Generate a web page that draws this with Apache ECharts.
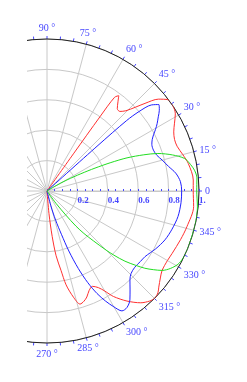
<!DOCTYPE html>
<html>
<head>
<meta charset="utf-8">
<script src="https://cdn.jsdelivr.net/npm/echarts@6/dist/echarts.min.js"></script>
<style>
html,body{margin:0;padding:0;background:#fff;}
#chart{width:247px;height:382px;}
</style>
</head>
<body>
<div id="chart"></div>
<script>
// Angles in degrees (counter-clockwise from 0), radii on a 0..1 scale
const redAngles = [-86, -85, -83.5, -82, -80, -78.5, -76, -73.7, -71.5, -69.4, -67, -64.5, -62, -60, -57.8, -54, -50, -47, -44.8, -42.5, -40.7, -37.5, -34.6, -30, -26.5, -20, -14.3, -6, 0, 4.3, 11, 15, 19, 22, 25, 28, 31, 34, 37, 39.5, 41.8, 43.5, 45.5, 47.5, 49.5, 51.5, 53, 54.2, 54.5, 54.6, 54.7];
const redR = [0, 0.15, 0.3, 0.43, 0.53, 0.63, 0.72, 0.775, 0.765, 0.745, 0.71, 0.695, 0.72, 0.76, 0.82, 0.895, 0.96, 0.99, 1.0, 0.99, 0.97, 0.94, 0.92, 0.915, 0.92, 0.935, 0.95, 0.97, 0.962, 0.965, 0.947, 0.925, 0.905, 0.905, 0.92, 0.95, 0.985, 1.0, 0.998, 0.95, 0.865, 0.8, 0.74, 0.71, 0.712, 0.75, 0.785, 0.76, 0.6, 0.3, 0];

const blueAngles = [-77, -75.5, -73.5, -71.6, -70, -68, -66, -64, -62, -60, -58, -55.6, -52.7, -50, -47, -44.5, -41, -37, -33.8, -28, -22.5, -17, -11, -5, 0, 4, 7.9, 11.5, 15, 18, 21, 24, 26, 28, 29.5, 31.5, 33.7, 35.7, 37.7, 39.5, 40.8, 41.5, 41.8, 42];
const blueR = [0, 0.1, 0.2, 0.3, 0.42, 0.55, 0.66, 0.75, 0.82, 0.88, 0.93, 0.93, 0.9, 0.85, 0.8, 0.775, 0.765, 0.77, 0.776, 0.81, 0.84, 0.86, 0.878, 0.885, 0.886, 0.88, 0.855, 0.815, 0.785, 0.76, 0.75, 0.755, 0.77, 0.795, 0.82, 0.85, 0.88, 0.91, 0.93, 0.89, 0.8, 0.7, 0.45, 0];

const greenAngles = [-56, -54, -52, -50.5, -49, -47, -45, -43.8, -42, -40, -38.3, -36.5, -34.6, -32, -28.8, -25, -21.3, -12.3, -6, 0, 5, 8, 10.5, 13.3, 16, 18.7, 20.5, 22.5, 24, 25.5, 27, 29, 31, 32];
const greenR = [0, 0.1, 0.2, 0.3, 0.37, 0.45, 0.55, 0.61, 0.69, 0.76, 0.82, 0.87, 0.92, 0.96, 0.99, 1.0, 1.0, 1.0, 0.995, 0.985, 0.99, 0.98, 0.96, 0.93, 0.86, 0.77, 0.68, 0.57, 0.46, 0.35, 0.25, 0.15, 0.06, 0];

const angleTickLabels = ['0', '15 °', '30 °', '45 °', '60 °', '75 °', '90 °', '270 °', '285 °', '300 °', '315 °', '330 °', '345 °'];
const radiusTickLabels = ['0.2', '0.4', '0.6', '0.8', '1.'];

const labelBlue = '#4646ff';
const serif = '"Liberation Serif", "DejaVu Serif", serif';

function toData(angles, radii) {
  return angles.map((a, i) => [radii[i], (a + 360) % 360]);
}
const angleLabelMap = {};
[0, 15, 30, 45, 60, 75, 90, 270, 285, 300, 315, 330, 345].forEach((v, i) => { angleLabelMap[v] = angleTickLabels[i]; });
const radiusLabelMap = {};
[0.2, 0.4, 0.6, 0.8, 1].forEach((v, i) => { radiusLabelMap[v.toFixed(1)] = radiusTickLabels[i]; });

const chart = echarts.init(document.getElementById('chart'), null, {renderer: 'canvas'});
chart.setOption({
  animation: false,
  backgroundColor: '#fff',
  polar: {center: [47, 191], radius: 152},
  angleAxis: {
    type: 'value', min: 0, max: 360, interval: 15,
    startAngle: 0, clockwise: false,
    axisLine: {show: true, lineStyle: {color: '#222', width: 1}},
    axisTick: {show: true, length: 3, lineStyle: {color: labelBlue, width: 1}},
    minorTick: {show: true, splitNumber: 3, length: 3, lineStyle: {color: labelBlue, width: 1}},
    splitLine: {show: true, lineStyle: {color: '#c8c8c8', width: 1}},
    axisLabel: {
      show: true, margin: 6, color: labelBlue, fontFamily: serif, fontSize: 10,
      formatter: function (v) { const k = Math.round(v) % 360; return angleLabelMap[k] !== undefined ? angleLabelMap[k] : ''; }
    }
  },
  radiusAxis: {
    type: 'value', min: 0, max: 1, interval: 0.2,
    axisLine: {show: true, lineStyle: {color: '#c8c8c8', width: 1}},
    axisTick: {show: true, length: 2, lineStyle: {color: labelBlue, width: 1}},
    minorTick: {show: true, splitNumber: 4, length: 2, lineStyle: {color: labelBlue, width: 1}},
    splitLine: {show: true, lineStyle: {color: '#c8c8c8', width: 1}},
    axisLabel: {
      show: true, margin: -5, align: 'left', verticalAlign: 'top',
      showMaxLabel: true, showMinLabel: false, hideOverlap: false,
      color: labelBlue, fontFamily: serif, fontSize: 9, fontWeight: 'bold',
      formatter: function (v) { const k = (+v).toFixed(1); return radiusLabelMap[k] || ''; }
    }
  },
  series: [
    {type: 'line', coordinateSystem: 'polar', data: toData(redAngles, redR), smooth: 0.3, showSymbol: false, symbol: 'none', lineStyle: {color: '#ff3030', width: 1}},
    {type: 'line', coordinateSystem: 'polar', data: toData(blueAngles, blueR), smooth: 0.3, showSymbol: false, symbol: 'none', lineStyle: {color: '#2020ff', width: 1}},
    {type: 'line', coordinateSystem: 'polar', data: toData(greenAngles, greenR), smooth: 0.3, showSymbol: false, symbol: 'none', lineStyle: {color: '#22dd22', width: 1}}
  ],
  graphic: [
    {type: 'rect', z: 100, shape: {x: 0, y: 0, width: 27, height: 382}, style: {fill: '#fff'}}
  ]
});
</script>
</body>
</html>
